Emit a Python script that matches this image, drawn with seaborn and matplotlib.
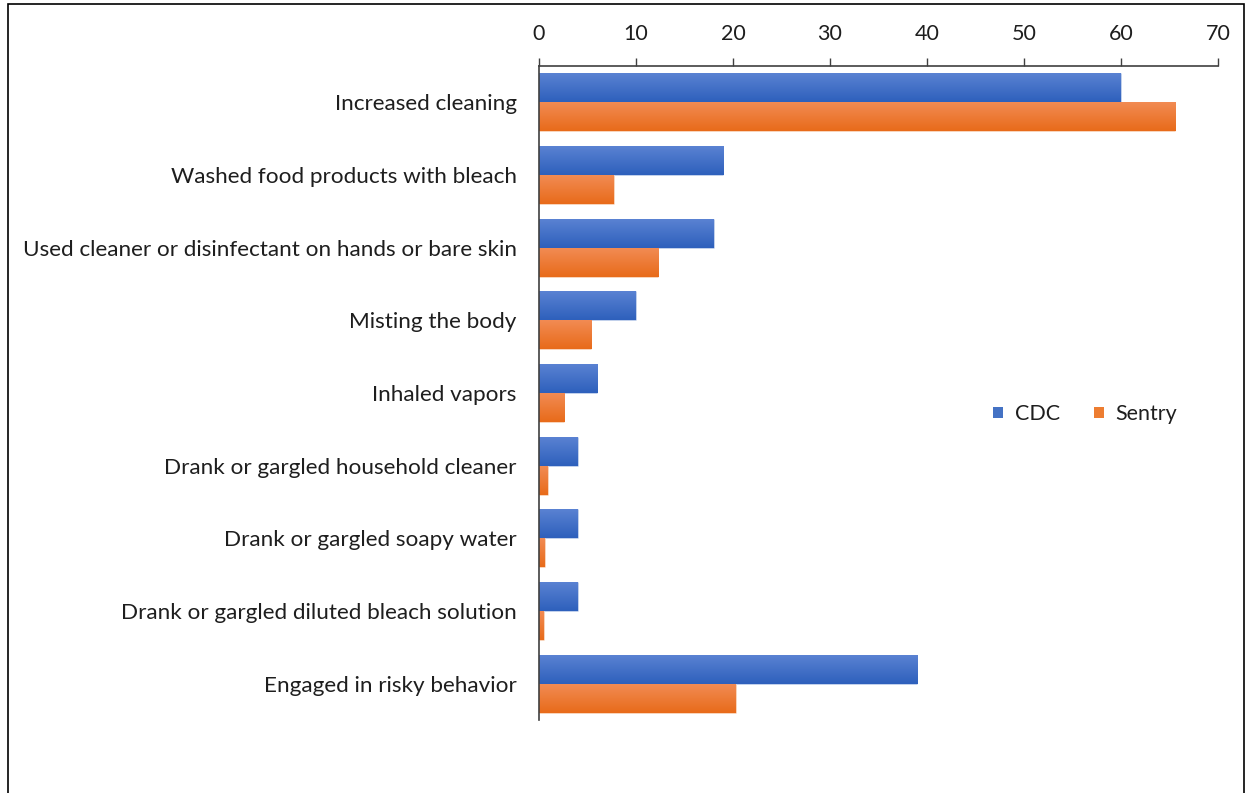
import numpy as np
import pandas as pd
import matplotlib
matplotlib.use("Agg")
import matplotlib.pyplot as plt
import matplotlib.colors as mcolors
from matplotlib.patches import Rectangle, Patch
import seaborn as sns

categories = [
    "Increased cleaning",
    "Washed food products with bleach",
    "Used cleaner or disinfectant on hands or bare skin",
    "Misting the body",
    "Inhaled vapors",
    "Drank or gargled household cleaner",
    "Drank or gargled soapy water",
    "Drank or gargled diluted bleach solution",
    "Engaged in risky behavior",
]
cdc = [60, 19, 18, 10, 6, 4, 4, 4, 39]
sentry = [65.6, 7.7, 12.3, 5.4, 2.6, 0.9, 0.6, 0.5, 20.3]
series = ["CDC", "Sentry"]
x_ticks = [0, 10, 20, 30, 40, 50, 60, 70]

df = pd.DataFrame({
    "category": categories * 2,
    "value": cdc + sentry,
    "source": [series[0]] * len(cdc) + [series[1]] * len(sentry),
})

sns.set_theme(style="white")
plt.rcParams["font.family"] = ["Lato", "DejaVu Sans"]

base = {"CDC": "#4472c4", "Sentry": "#ed7d31"}
grad = {
    "CDC": ("#5b83d3", "#2e60bc"),
    "Sentry": ("#f28c55", "#e86b1a"),
}
FS = 15.5
FS_CAT = 16.2
TXT = "#1e1e1e"

fig = plt.figure(figsize=(12.52, 7.93), dpi=100)
ax = fig.add_axes([539 / 1252, 1 - 720 / 793, (1218 - 539) / 1252, (720 - 66) / 793])

sns.barplot(data=df, y="category", x="value", hue="source", order=categories,
            hue_order=series, palette=base, orient="h", width=0.8,
            saturation=1, legend=False, ax=ax, errorbar=None)

# vertical gradient fill on each bar
n = len(categories)
for i, patch in enumerate(ax.patches):
    name = series[i // n]
    top, bottom = grad[name]
    cmap = mcolors.LinearSegmentedColormap.from_list(name, [top, bottom])
    x0, y0 = patch.get_x(), patch.get_y()
    w, h = patch.get_width(), patch.get_height()
    if w <= 0:
        continue
    g = np.linspace(0, 1, 64).reshape(-1, 1)
    im = ax.imshow(g, cmap=cmap, aspect="auto", interpolation="bilinear",
                   extent=(x0, x0 + w, y0 + h, y0), zorder=patch.get_zorder() + 0.1)
    im.set_clip_path(patch)
    patch.set_edgecolor((1, 1, 1, 0.35))
    patch.set_linewidth(0.8)

ax.set_xlim(0, 70)
ax.set_ylim(n - 0.5, -0.5)
ax.set_xticks(x_ticks)
ax.xaxis.tick_top()
ax.tick_params(axis="x", direction="out", length=6, width=1, color="#404040",
               labelsize=FS, labelcolor=TXT, pad=9.5, top=True, bottom=False)
ax.tick_params(axis="y", length=0, labelsize=FS_CAT, labelcolor=TXT, pad=16)
ax.set_xlabel("")
ax.set_ylabel("")
for side in ["right", "bottom"]:
    ax.spines[side].set_visible(False)
for side in ["top", "left"]:
    ax.spines[side].set_visible(True)
    ax.spines[side].set_color("#404040")
    ax.spines[side].set_linewidth(1.2)
ax.grid(False)

handles = [Patch(facecolor=base[s], edgecolor="none") for s in series]
fig.legend(handles, series, loc="center left", ncol=2, frameon=False,
           bbox_to_anchor=(993 / 1252, 1 - 414 / 793), fontsize=FS,
           labelcolor=TXT, borderpad=0, borderaxespad=0,
           handlelength=0.45, handleheight=0.45, handletextpad=0.55,
           columnspacing=1.6)

# outer frame of the chart area
fig.patches.append(Rectangle((8 / 1252, -0.05), (1244 - 8) / 1252, 1.05 - 4 / 793,
                             transform=fig.transFigure, fill=False,
                             edgecolor="#000000", linewidth=1.2))

fig.savefig("out.png", dpi=100, facecolor="white")
